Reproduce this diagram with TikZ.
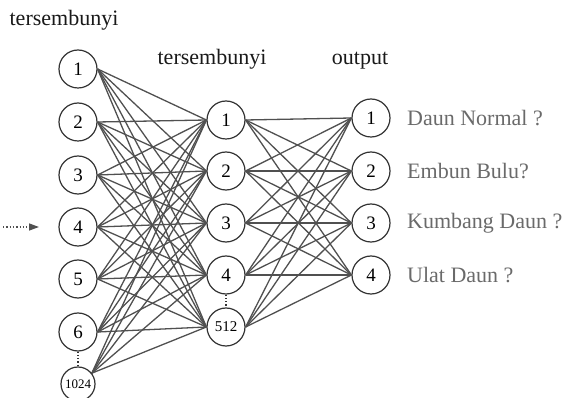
\documentclass[tikz,border=0pt]{standalone}
\usepackage{fontspec}
\setmainfont{Liberation Serif}
\usetikzlibrary{arrows.meta}
\definecolor{edgegray}{HTML}{505050}
\definecolor{labgray}{HTML}{6A6A6A}
\begin{document}
\begin{tikzpicture}[x=1pt,y=-1pt,
  neuron/.style={circle,draw=black!80,line width=1.2pt,minimum size=38pt,inner sep=0pt,fill=white,font=\fontsize{19}{21}\selectfont},
  smallneuron/.style={neuron,minimum size=34pt,font=\fontsize{13}{15}\selectfont},
  midneuron/.style={neuron,font=\fontsize{15}{17}\selectfont},
  title/.style={font=\fontsize{22}{26}\selectfont,text=black!90},
  outlabel/.style={font=\fontsize{22}{26}\selectfont,text=labgray,anchor=west,inner sep=0pt},
  edge/.style={draw=edgegray,line width=1.3pt},
  dots/.style={draw=black!80,line width=1.3pt,dotted}]
\useasboundingbox (0,0) rectangle (566,398);
% titles
\node[title] (t1) at (64,20) {tersembunyi};
\node[title] (t2) at (212,59) {tersembunyi};
\node[title] (t3) at (360,61) {output};
% input layer
\node[neuron] (i1) at (78,69) {1};
\node[neuron] (i2) at (78,122) {2};
\node[neuron] (i3) at (78,175) {3};
\node[neuron] (i4) at (78,227) {4};
\node[neuron] (i5) at (78,279) {5};
\node[neuron] (i6) at (78,332) {6};
\node[smallneuron] (i7) at (78,384) {1024};
% hidden layer
\node[neuron] (h1) at (226,120) {1};
\node[neuron] (h2) at (226,171) {2};
\node[neuron] (h3) at (226,223) {3};
\node[neuron] (h4) at (226,275) {4};
\node[midneuron] (h5) at (226,327) {512};
% output layer
\node[neuron] (o1) at (371,118) {1};
\node[neuron] (o2) at (371,171) {2};
\node[neuron] (o3) at (371,223) {3};
\node[neuron] (o4) at (371,275) {4};
% edges
\foreach \i in {i1,i2,i3,i4,i5,i6}
  \foreach \h in {h1,h2,h3,h4,h5}
    \draw[edge] (\i.east) -- (\h.west);
\foreach \h in {h1,h2,h3,h4,h5}
  \draw[edge] (i7.38) -- (\h.west);
\foreach \h in {h1,h2,h3,h4,h5}
  \foreach \o in {o1,o2,o3,o4}
    \draw[edge] (\h.east) -- (\o.west);
% dotted ellipsis
\draw[dots] (i6.south) -- (i7.north);
\draw[dots] (h4.south) -- (h5.north);
% input arrow
\coordinate (ain) at (3,227);
\coordinate (aout) at (39,227);
\draw[draw=edgegray,line width=1.3pt,dotted,-{Triangle[length=10pt,width=7pt]}] (ain) -- (aout);
% output labels
\node[outlabel] (l1) at (407,118) {Daun Normal ?};
\node[outlabel] (l2) at (407,171) {Embun Bulu?};
\node[outlabel] (l3) at (407,223) {Kumbang Daun ?};
\node[outlabel] (l4) at (407,275) {Ulat Daun ?};
\end{tikzpicture}
\end{document}
